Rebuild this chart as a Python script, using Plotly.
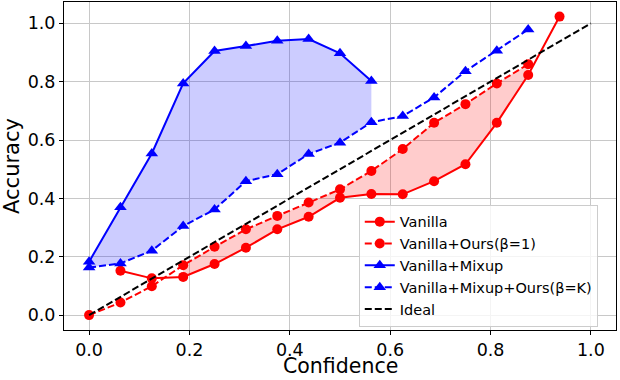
import plotly.graph_objects as go

# Bins de confiança (1/16)
conf = [0.0, 0.0625, 0.125, 0.1875, 0.25, 0.3125, 0.375, 0.4375,
        0.5, 0.5625, 0.625, 0.6875, 0.75, 0.8125, 0.875, 0.9375]

vanilla = [None, 0.152, 0.126, 0.131, 0.175, 0.231, 0.294, 0.337,
           0.402, 0.415, 0.414, 0.459, 0.517, 0.659, 0.823, 1.023]
vanilla_ours = [0.0, 0.043, 0.099, 0.171, 0.234, 0.294, 0.340, 0.386,
                0.431, 0.494, 0.569, 0.659, 0.723, 0.794, 0.860]
mixup = [0.183, 0.370, 0.554, 0.794, 0.905, 0.922, 0.940, 0.946,
         0.897, 0.802]
mixup_ours = [0.163, 0.177, 0.221, 0.305, 0.362, 0.459, 0.483, 0.552,
              0.591, 0.661, 0.682, 0.746, 0.836, 0.906, 0.979]
ideal = [0.0, 1.0]

RED = "#ff0000"
BLUE = "#0000ff"
DASH = "7px,3px"

fig = go.Figure()

# Preenchimento azul (Mixup vs Mixup+Ours)
n_mix = len(mixup)
fig.add_trace(go.Scatter(x=conf[:n_mix], y=mixup_ours[:n_mix], mode="lines",
                         line=dict(width=0), showlegend=False, hoverinfo="skip"))
fig.add_trace(go.Scatter(x=conf[:n_mix], y=mixup, mode="lines", line=dict(width=0),
                         fill="tonexty", fillcolor="rgba(0,0,255,0.2)",
                         showlegend=False, hoverinfo="skip"))

# Preenchimento vermelho onde Ours > Vanilla
idx = [i for i in range(len(vanilla_ours))
       if vanilla[i] is not None and vanilla_ours[i] > vanilla[i]]
fig.add_trace(go.Scatter(x=[conf[i] for i in idx], y=[vanilla[i] for i in idx],
                         mode="lines", line=dict(width=0), showlegend=False,
                         hoverinfo="skip"))
fig.add_trace(go.Scatter(x=[conf[i] for i in idx], y=[vanilla_ours[i] for i in idx],
                         mode="lines", line=dict(width=0), fill="tonexty",
                         fillcolor="rgba(255,0,0,0.2)", showlegend=False,
                         hoverinfo="skip"))

# Curvas
fig.add_trace(go.Scatter(x=conf, y=vanilla, mode="lines+markers", name="Vanilla",
                         line=dict(color=RED, width=2),
                         marker=dict(symbol="circle", size=10, color=RED)))
fig.add_trace(go.Scatter(x=conf[:len(vanilla_ours)], y=vanilla_ours,
                         mode="lines+markers", name="Vanilla+Ours(β=1)",
                         line=dict(color=RED, width=2, dash=DASH),
                         marker=dict(symbol="circle", size=10, color=RED)))
fig.add_trace(go.Scatter(x=conf[:n_mix], y=mixup, mode="lines+markers",
                         name="Vanilla+Mixup", line=dict(color=BLUE, width=2),
                         marker=dict(symbol="triangle-up", size=11, color=BLUE)))
fig.add_trace(go.Scatter(x=conf[:len(mixup_ours)], y=mixup_ours,
                         mode="lines+markers", name="Vanilla+Mixup+Ours(β=K)",
                         line=dict(color=BLUE, width=2, dash=DASH),
                         marker=dict(symbol="triangle-up", size=11, color=BLUE)))
fig.add_trace(go.Scatter(x=[0, 1], y=ideal, mode="lines", name="Ideal",
                         line=dict(color="black", width=2, dash=DASH)))

axis_style = dict(showgrid=True, gridcolor="#c8c8c8", gridwidth=1,
                  zeroline=False, showline=True, linecolor="black", linewidth=1,
                  mirror=True, ticks="outside", ticklen=4, tickcolor="black",
                  tickformat=".1f", dtick=0.2, automargin=False,
                  tickfont=dict(size=17.5, color="black"))

fig.update_layout(
    width=620, height=380,
    margin=dict(l=64, r=4, t=2, b=50),
    plot_bgcolor="white", paper_bgcolor="white",
    font=dict(family="DejaVu Sans", color="black"),
    xaxis=dict(range=[-0.05, 1.05], tick0=0, **axis_style),
    yaxis=dict(range=[-0.051, 1.073], tick0=0,
               title=dict(text="Accuracy", font=dict(size=21), standoff=4),
               **axis_style),
    legend=dict(x=0.534, y=0.01, xanchor="left", yanchor="bottom",
                traceorder="normal",
                bgcolor="rgba(255,255,255,0.8)", bordercolor="#cccccc",
                borderwidth=1, font=dict(size=14.5), tracegroupgap=0),
)

# título do eixo x como anotação, logo abaixo dos rótulos
fig.add_annotation(text="Confidence", xref="paper", yref="paper",
                   x=0.5, y=-0.152, xanchor="center", yanchor="bottom",
                   showarrow=False, font=dict(size=20.5))

# sem margem do body, para a figura ocupar a janela inteira
fig.write_html("out.html", config={"displayModeBar": False},
               post_script="document.body.style.margin='0';")
